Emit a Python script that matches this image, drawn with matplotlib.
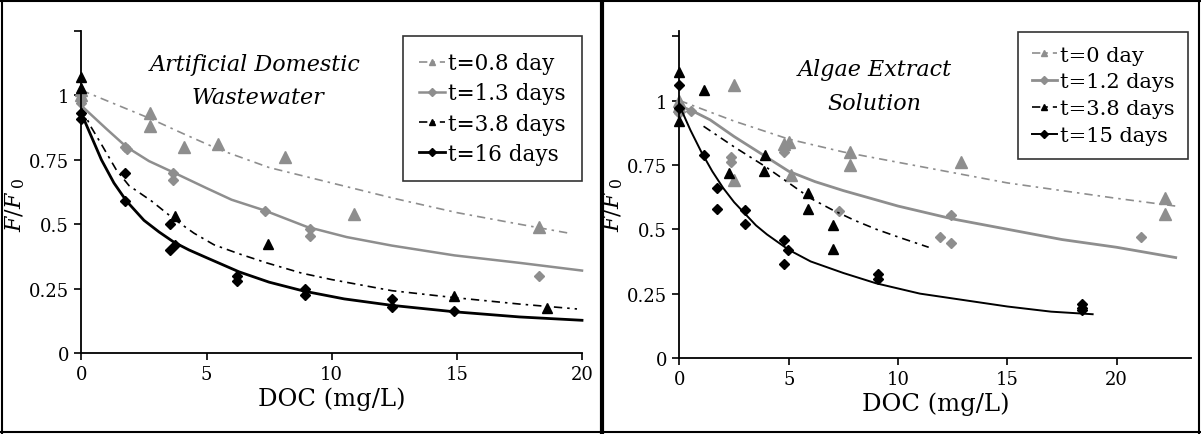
import matplotlib
matplotlib.use("Agg")
import matplotlib.pyplot as plt
from matplotlib.lines import Line2D

plt.rcParams['font.family'] = ['DejaVu Serif']
plt.rcParams['mathtext.fontset'] = 'dejavuserif'

# ---------------- left panel: artificial domestic wastewater ----------------
a08_x = [0, 0, 2.75, 2.75, 4.1, 5.47, 8.15, 10.9, 18.3]
a08_y = [1.0, 1.02, 0.93, 0.88, 0.80, 0.81, 0.76, 0.54, 0.49]
a08_fit_x = [0, 1.5, 2.75, 4.1, 5.5, 7.5, 10, 12.5, 15, 17.5, 19.6]
a08_fit_y = [1.02, 0.96, 0.91, 0.85, 0.79, 0.72, 0.66, 0.60, 0.545, 0.50, 0.463]

a13_x = [0, 1.76, 1.83, 3.67, 3.67, 7.34, 9.14, 9.14, 18.3]
a13_y = [0.97, 0.80, 0.79, 0.70, 0.67, 0.553, 0.48, 0.456, 0.30]
a13_fit_x = [0, 0.5, 1, 1.8, 2.7, 3.7, 5, 6, 7.3, 9, 10.6, 12.4, 14.9, 17.5, 20]
a13_fit_y = [0.96, 0.915, 0.87, 0.80, 0.745, 0.70, 0.64, 0.595, 0.554, 0.49, 0.45,
             0.417, 0.379, 0.35, 0.32]

a38_x = [0, 0, 3.75, 7.46, 14.9, 18.6]
a38_y = [1.07, 1.03, 0.53, 0.424, 0.223, 0.174]
a38_fit_x = [0, 0.4, 0.8, 1.4, 1.9, 2.8, 3.7, 4.5, 5.3, 6.3, 7.4, 8.8, 10, 12.4, 14.9, 17.5, 19.8]
a38_fit_y = [0.95, 0.875, 0.81, 0.71, 0.65, 0.59, 0.52, 0.465, 0.42, 0.385, 0.35, 0.31, 0.285,
             0.242, 0.215, 0.19, 0.171]

a16_x = [0, 0, 1.76, 1.76, 3.52, 3.52, 3.75, 6.2, 6.2, 8.94, 8.94, 12.4, 12.4, 14.9]
a16_y = [0.93, 0.91, 0.70, 0.59, 0.50, 0.40, 0.42, 0.30, 0.28, 0.25, 0.225, 0.21, 0.18, 0.163]
a16_fit_x = [0, 0.2, 0.4, 0.8, 1.3, 1.8, 2.5, 3.1, 3.7, 4.3, 5, 6.3, 7.5, 8.9, 10.5, 12.4, 14.9,
             17.5, 20]
a16_fit_y = [0.93, 0.885, 0.84, 0.75, 0.66, 0.59, 0.515, 0.47, 0.43, 0.40, 0.37, 0.315, 0.275,
             0.24, 0.21, 0.185, 0.16, 0.14, 0.127]

# ---------------- right panel: algae extract solution ----------------
b00_x = [0, 0, 2.5, 2.5, 4.8, 5.0, 5.1, 7.8, 7.8, 12.9, 22.2, 22.2]
b00_y = [1.0, 0.98, 1.06, 0.69, 0.83, 0.84, 0.71, 0.80, 0.75, 0.76, 0.62, 0.56]
b00_fit_x = [0, 2.5, 5, 7.5, 10, 12.5, 15, 17.5, 20, 22.7]
b00_fit_y = [1.0, 0.92, 0.85, 0.80, 0.76, 0.72, 0.68, 0.65, 0.62, 0.59]

b12_x = [0, 0, 0.53, 2.34, 2.34, 4.79, 7.3, 11.9, 12.4, 12.4, 21.1]
b12_y = [0.97, 0.95, 0.96, 0.78, 0.76, 0.80, 0.57, 0.47, 0.555, 0.445, 0.47]
b12_fit_x = [0, 0.7, 1.4, 2.5, 3.8, 5, 6.2, 7.5, 10, 12.5, 15, 17.5, 20, 22.7]
b12_fit_y = [0.98, 0.955, 0.925, 0.86, 0.79, 0.725, 0.685, 0.65, 0.59, 0.54, 0.50, 0.46,
             0.43, 0.39]

b38_x = [0, 0, 1.1, 2.25, 3.9, 3.85, 5.9, 5.9, 7.0, 7.0]
b38_y = [1.11, 0.92, 1.04, 0.72, 0.79, 0.726, 0.64, 0.578, 0.516, 0.425]
b38_fit_x = [1.1, 2.5, 3.9, 5, 6, 7, 8, 9, 10, 11.4]
b38_fit_y = [0.90, 0.82, 0.745, 0.68, 0.62, 0.575, 0.535, 0.50, 0.47, 0.43]

b15_x = [0, 0, 1.1, 1.72, 1.72, 3.0, 3.0, 4.8, 4.8, 4.95, 9.1, 9.1, 18.4, 18.4, 18.4]
b15_y = [1.06, 0.97, 0.79, 0.66, 0.58, 0.575, 0.52, 0.46, 0.365, 0.42, 0.328, 0.305, 0.21,
         0.195, 0.185]
b15_fit_x = [0, 0.5, 1, 1.5, 2, 2.5, 3, 3.5, 4, 5, 6, 7.5, 9, 11, 13, 15, 17, 18.9]
b15_fit_y = [0.98, 0.885, 0.80, 0.725, 0.66, 0.605, 0.56, 0.515, 0.48, 0.42, 0.375, 0.33,
             0.29, 0.25, 0.225, 0.20, 0.18, 0.17]

y_ticks = [0, 0.25, 0.5, 0.75, 1, 1.25]
y_labels = ['0', '0.25', '0.5', '0.75', '1', '']
x_ticks = [0, 5, 10, 15, 20]

GRAY = '#8e8e8e'
DASHDOT = (0, (5, 3, 1.5, 3))

W, H = 1201, 435
fig = plt.figure(figsize=(W / 100, H / 100), dpi=100)


def px(x, y):
    return x / W, 1 - y / H


def style_axes(ax, xmax, ymax):
    ax.set_xlim(0, xmax)
    ax.set_ylim(0, ymax)
    ax.set_xticks(x_ticks)
    ax.set_yticks(y_ticks)
    ax.set_yticklabels(y_labels)
    for s in ['top', 'right']:
        ax.spines[s].set_visible(False)
    for s in ['left', 'bottom']:
        ax.spines[s].set_linewidth(1.3)
    ax.tick_params(direction='out', length=5, width=1.2, labelsize=13, pad=4)
    ax.set_xlabel('DOC (mg/L)', fontsize=17.5, labelpad=2)
    for c in ax.collections + ax.lines:
        c.set_clip_on(False)


def series(ax, pts_x, pts_y, fit_x, fit_y, color, marker, ms, ls, lw):
    ax.plot(fit_x, fit_y, color=color, ls=ls, lw=lw)
    ax.plot(pts_x, pts_y, ls='none', marker=marker, ms=ms, color=color, mec=color)
    return Line2D([], [], color=color, ls=ls, lw=lw, marker=marker, ms=4, mec=color)


def add_legend(ax, handles, labels, corner, size, pad):
    leg = ax.legend(handles, labels, loc='upper left', bbox_to_anchor=px(*corner),
                    bbox_transform=fig.transFigure, borderaxespad=0, fontsize=size,
                    frameon=True, fancybox=False, edgecolor='black', handlelength=1.2,
                    handletextpad=0.15, labelspacing=0.38, borderpad=pad)
    leg.get_frame().set_linewidth(1.2)


# left panel
ax1 = fig.add_axes([81.4 / W, 1 - 354 / H, 500.6 / W, 322 / H])
h1 = [
    series(ax1, a08_x, a08_y, a08_fit_x, a08_fit_y, GRAY, '^', 8, DASHDOT, 1.2),
    series(ax1, a13_x, a13_y, a13_fit_x, a13_fit_y, GRAY, 'D', 5, '-', 1.8),
    series(ax1, a38_x, a38_y, a38_fit_x, a38_fit_y, 'black', '^', 7, DASHDOT, 1.2),
    series(ax1, a16_x, a16_y, a16_fit_x, a16_fit_y, 'black', 'D', 5, '-', 2.0),
]
style_axes(ax1, 20, 1.25)
add_legend(ax1, h1, ['t=0.8 day', 't=1.3 days', 't=3.8 days', 't=16 days'], (403, 37),
           15.5, 0.75)

# right panel
ax2 = fig.add_axes([679.5 / W, 1 - 359 / H, 511.5 / W, 327 / H])
h2 = [
    series(ax2, b00_x, b00_y, b00_fit_x, b00_fit_y, GRAY, '^', 8, DASHDOT, 1.2),
    series(ax2, b12_x, b12_y, b12_fit_x, b12_fit_y, GRAY, 'D', 5, '-', 2.0),
    series(ax2, b38_x, b38_y, b38_fit_x, b38_fit_y, 'black', '^', 7, DASHDOT, 1.2),
    series(ax2, b15_x, b15_y, b15_fit_x, b15_fit_y, 'black', 'D', 5, '-', 1.4),
]
style_axes(ax2, 23.4, 1.27)
add_legend(ax2, h2, ['t=0 day', 't=1.2 days', 't=3.8 days', 't=15 days'], (1018, 33),
           15, 0.65)

# y labels and panel titles
for xl in [15, 613]:
    fig.text(*px(xl, 205), r'$F/F_{\ 0}$', rotation=90, ha='center', va='center',
             fontsize=16)
fig.text(*px(255, 65), 'Artificial Domestic', style='italic', fontsize=16,
         ha='center', va='center')
fig.text(*px(258, 98), 'Wastewater', style='italic', fontsize=16,
         ha='center', va='center')
fig.text(*px(875, 70), 'Algae Extract', style='italic', fontsize=16,
         ha='center', va='center')
fig.text(*px(874, 104), 'Solution', style='italic', fontsize=16,
         ha='center', va='center')

# outer frames
for xs, ys, lw in [([1.5, 1.5], [0, H], 1.5), ([W - 2, W - 2], [0, H], 1.5),
                   ([0, W], [1.5, 1.5], 1.5), ([0, W], [H - 2, H - 2], 1.5),
                   ([601.5, 601.5], [0, H], 3)]:
    fig.add_artist(Line2D([x / W for x in xs], [1 - y / H for y in ys],
                          color='black', lw=lw, transform=fig.transFigure))

fig.savefig('out.png', dpi=100)
